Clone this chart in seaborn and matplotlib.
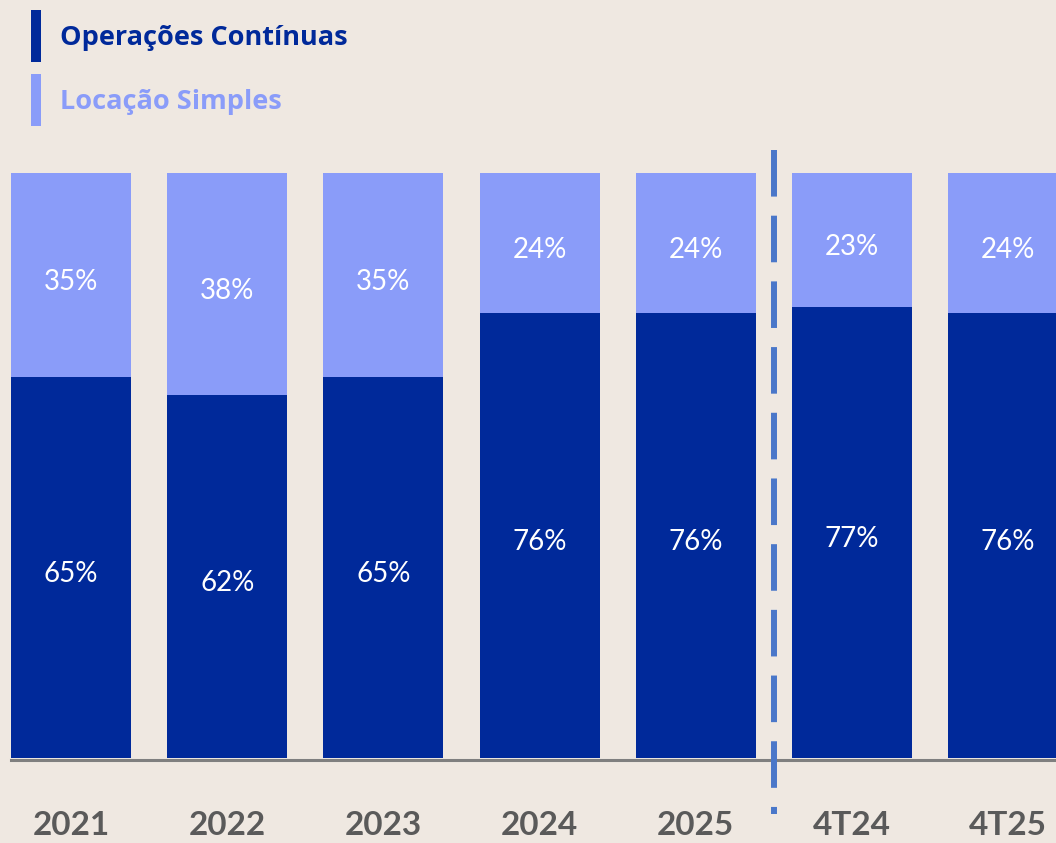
import matplotlib
matplotlib.use("Agg")
import matplotlib.pyplot as plt
from matplotlib.patches import Rectangle
import seaborn as sns
import numpy as np

# data
categories = ["2021", "2022", "2023", "2024", "2025", "4T24", "4T25"]
operacoes = [65, 62, 65, 76, 76, 77, 76]
locacao = [35, 38, 35, 24, 24, 23, 24]
series_names = ["Operações Contínuas", "Locação Simples"]

# style
bg = "#EFE8E1"
dark = "#00299A"
light = "#8A9CF9"
dash_col = "#4A77C9"
axis_gray = "#7F7F7F"
label_gray = "#5A5A5A"

plt.rcParams["font.family"] = ["Lato", "DejaVu Sans"]

W, H = 1056, 843
fig = plt.figure(figsize=(W / 100, H / 100), dpi=100, facecolor=bg)
base_px = 759.5
ax = fig.add_axes([0, (H - base_px) / H, 1, base_px / H])
ax.set_facecolor(bg)

totals = np.array(operacoes) + np.array(locacao)
bar_w = 120 / 156.2

# light bar = full stack, dark bar drawn over it
sns.barplot(x=categories, y=totals, color=light, width=bar_w, saturation=1,
            linewidth=0, ax=ax)
sns.barplot(x=categories, y=operacoes, color=dark, width=bar_w, saturation=1,
            linewidth=0, ax=ax)

px_per_unit = 585 / 100
ax.set_xlim(-71 / 156.2, (W - 71) / 156.2)
ax.set_ylim(-2 / px_per_unit, (base_px - 2) / px_per_unit)

# value labels
for i, (op, lo) in enumerate(zip(operacoes, locacao)):
    ax.text(i, op / 2 - 1.2, f"{op}%", ha="center", va="center",
            color="white", fontsize=20)
    ax.text(i, op + lo / 2 - 1.2, f"{lo}%", ha="center", va="center",
            color="white", fontsize=20)

# dashed separator between annual and quarterly figures
sep_x = (len(categories) - 2) - 0.5
ax.plot([sep_x, sep_x], [103.8, -9.65], color=dash_col, lw=4.3,
        linestyle=(0, (7.8, 3.2)), clip_on=False, zorder=5)

# axes cosmetics
for side in ["top", "left", "right"]:
    ax.spines[side].set_visible(False)
ax.spines["bottom"].set_color(axis_gray)
ax.spines["bottom"].set_linewidth(2.2)
ax.spines["bottom"].set_bounds(-0.5 * bar_w, (W - 71) / 156.2)
ax.set_yticks([])
ax.set_xticks(range(len(categories)))
ax.set_xticklabels(categories, fontsize=24, fontweight="bold", color=label_gray)
ax.tick_params(axis="x", length=0, pad=37)
ax.set_xlabel("")
ax.set_ylabel("")

# legend
for k, (name, col) in enumerate(zip(series_names, [dark, light])):
    top = 10 + 64 * k
    fig.add_artist(Rectangle((31 / W, 1 - (top + 52) / H), 10 / W, 52 / H,
                             transform=fig.transFigure, color=col, lw=0))
    fig.text(60 / W, 1 - (top + 28) / H, name, color=col, fontsize=19.5,
             fontweight="bold", va="center", ha="left",
             family=["Open Sans", "DejaVu Sans"])

fig.savefig("out.png", dpi=100, facecolor=bg)
